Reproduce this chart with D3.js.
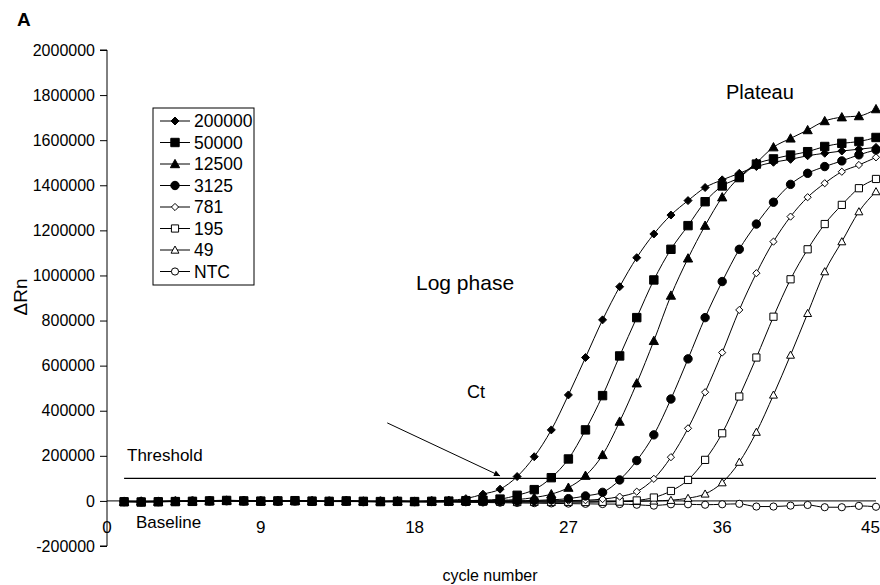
<!DOCTYPE html>
<html>
<head>
<meta charset="utf-8">
<script src="https://cdn.jsdelivr.net/npm/d3@7"></script>
<style>
  html, body { margin: 0; padding: 0; background: #fff; }
  svg { display: block; font-family: Arial, "Liberation Sans", sans-serif; }
</style>
</head>
<body>
<div id="chart"></div>
<script>
// cycle numbers (x categories)
const cycles = [1, 2, 3, 4, 5, 6, 7, 8, 9, 10, 11, 12, 13, 14, 15, 16, 17, 18, 19, 20,
    21, 22, 23, 24, 25, 26, 27, 28, 29, 30, 31, 32, 33, 34, 35, 36, 37, 38, 39, 40,
    41, 42, 43, 44, 45];

// delta Rn per dilution
const s200000 = [-2000, -3000, -2000, -1000, 0, 1000, 3000, 1000, 0, 1000, 2000, 0, -1000, 1000, -1000,
    -2000, -1000, -2000, 0, 3000, 10000, 30000, 52000, 108000, 196000, 315000, 470000, 636000, 803000, 950000,
    1079000, 1184000, 1268000, 1332000, 1390000, 1424000, 1453000, 1483000, 1502000, 1515000, 1531000, 1542000,
    1552000, 1560000, 1568000];
const s50000 = [-4000, -5000, -4000, -3000, -2000, 0, 2000, 0, -1000, 0, 1000, -1000, -2000, 0, -2000,
    -3000, -2000, -3000, -2000, -1000, 1000, 3000, 8000, 25000, 50000, 103000, 186000, 315000, 467000, 643000,
    813000, 980000, 1116000, 1221000, 1327000, 1397000, 1434000, 1494000, 1517000, 1534000, 1549000, 1572000,
    1586000, 1594000, 1612000];
const s12500 = [-3000, -2000, -3000, -1000, -2000, 1000, 2000, 1000, -1000, 0, 1000, 0, -2000, -1000, -2000,
    -2000, -1000, -3000, -1000, -1000, 0, 2000, 3000, 6000, 15000, 30000, 59000, 112000, 204000, 352000,
    522000, 710000, 911000, 1076000, 1221000, 1347000, 1436000, 1500000, 1569000, 1608000, 1645000, 1685000,
    1702000, 1707000, 1738000];
const s3125 = [-3000, -4000, -3000, -2000, -1000, 0, 1000, 0, -1000, -1000, 0, -2000, -2000, -1000, -3000,
    -2000, -2000, -3000, -2000, -2000, -1000, -1000, 0, 0, 2000, 5000, 10000, 22000, 38000, 93000,
    179000, 293000, 452000, 630000, 813000, 973000, 1116000, 1228000, 1325000, 1404000, 1453000, 1483000,
    1508000, 1535000, 1557000];
const s781 = [-2000, -3000, -3000, -2000, -1000, 0, 1000, 0, -1000, 0, 0, -1000, -2000, -1000, -2000,
    -3000, -2000, -2000, -3000, -2000, -2000, -1000, -2000, -1000, -1000, 0, 1000, 3000, 8000, 19000,
    41000, 98000, 194000, 322000, 482000, 658000, 847000, 1010000, 1150000, 1261000, 1347000, 1409000,
    1460000, 1490000, 1524000];
const s195 = [-3000, -4000, -3000, -2000, -2000, -1000, 0, -1000, -2000, -1000, -1000, -2000, -3000, -2000, -3000,
    -4000, -3000, -3000, -4000, -3000, -4000, -3000, -4000, -5000, -4000, -5000, -4000, -5000, -4000, -3000,
    2000, 15000, 44000, 93000, 182000, 300000, 463000, 636000, 817000, 983000, 1116000, 1228000,
    1313000, 1387000, 1428000];
const s49 = [-3000, -3000, -4000, -2000, -2000, -1000, 0, -1000, -2000, -2000, -1000, -2000, -3000, -3000, -3000,
    -4000, -3000, -4000, -4000, -3000, -4000, -5000, -4000, -5000, -5000, -6000, -5000, -5000, -4000, -3000,
    -2000, 0, 3000, 12000, 31000, 81000, 172000, 305000, 470000, 647000, 832000, 1017000,
    1150000, 1283000, 1372000];
const sNTC = [-2000, -3000, -2000, -2000, -1000, 0, 0, -1000, -1000, -2000, -1000, -2000, -3000, -2000, -3000,
    -3000, -4000, -4000, -5000, -5000, -6000, -7000, -8000, -9000, -10000, -11000, -12000, -13000, -14000, -14000,
    -17000, -21000, -15000, -15000, -17000, -15000, -13000, -25000, -25000, -21000, -18000, -28000,
    -28000, -22000, -26000];

const seriesNames = ["200000", "50000", "12500", "3125", "781", "195", "49", "NTC"];
const seriesValues = [s200000, s50000, s12500, s3125, s781, s195, s49, sNTC];
const markerKinds = ["diamond", "square", "triangle", "circle", "diamond", "square", "triangle", "circle"];
const markerFilled = [true, true, true, true, false, false, false, false];

const yTicks = [-200000, 0, 200000, 400000, 600000, 800000, 1000000, 1200000, 1400000, 1600000, 1800000, 2000000];
const xTicks = [0, 9, 18, 27, 36, 45];
const threshold = 100000;
// Ct arrow, in data units: [cycle, deltaRn]
const ctArrowFrom = [16.4, 346000];
const ctArrowTo = [23.0, 111000];

const width = 880;
const height = 585;

const x = d3.scaleLinear().domain([0, 45]).range([107, 876]);
const y = d3.scaleLinear().domain([-200000, 2000000]).range([546, 50]);

const svg = d3.select("#chart")
    .append("svg")
    .attr("width", width)
    .attr("height", height);

svg.append("defs").append("marker")
    .attr("id", "arrow")
    .attr("viewBox", "0 0 10 10")
    .attr("refX", 10)
    .attr("refY", 5)
    .attr("markerWidth", 10)
    .attr("markerHeight", 6)
    .attr("markerUnits", "userSpaceOnUse")
    .attr("orient", "auto")
    .append("path")
    .attr("d", "M0,0 L10,5 L0,10 Z")
    .attr("fill", "#000");

// marker shapes centred on 0,0
function markerPath(kind, filled) {
    const r = filled ? 4.2 : 3.6;
    if (kind === "diamond") {
        const d = filled ? 4 : 3.6;
        return `M0,${-d}L${d},0L0,${d}L${-d},0Z`;
    }
    if (kind === "square") {
        return `M${-r},${-r}H${r}V${r}H${-r}Z`;
    }
    if (kind === "triangle") {
        const h = r * 1.1;
        return `M0,${-h}L${h},${h * 0.8}L${-h},${h * 0.8}Z`;
    }
    return `M${r},0A${r},${r} 0 1,1 ${-r},0A${r},${r} 0 1,1 ${r},0Z`;
}

// y axis
const yAxis = svg.append("g")
    .attr("transform", `translate(${x(0)},0)`)
    .call(d3.axisLeft(y).tickValues(yTicks).tickSize(7).tickPadding(5).tickFormat(d => String(d)));
yAxis.select(".domain").attr("stroke", "#000").attr("d", `M-7,${y(-200000)}H0V${y(2000000)}H-7`);
yAxis.selectAll("text")
    .attr("font-size", 16)
    .attr("fill", "#000")
    .attr("font-family", "Arial, 'Liberation Sans', sans-serif");

// x axis drawn through zero
svg.append("line")
    .attr("x1", x(0)).attr("x2", x(45))
    .attr("y1", y(0)).attr("y2", y(0))
    .attr("stroke", "#000");

svg.append("g")
    .selectAll("text")
    .data(xTicks)
    .join("text")
    .attr("x", d => d === 45 ? width : x(d))
    .attr("y", y(0) + 32)
    .attr("text-anchor", d => d === 45 ? "end" : "middle")
    .attr("font-size", 17)
    .text(d => d);

// threshold
svg.append("line")
    .attr("x1", x(1)).attr("x2", x(45))
    .attr("y1", y(threshold)).attr("y2", y(threshold))
    .attr("stroke", "#000")
    .attr("stroke-width", 1.2);

// series, drawn from NTC up so the big filled markers end on top
const line = d3.line()
    .x((d, i) => x(cycles[i]))
    .y(d => y(d))
    .curve(d3.curveMonotoneX);

const order = d3.range(seriesNames.length).reverse();
order.forEach(k => {
    const g = svg.append("g");
    g.append("path")
        .datum(seriesValues[k])
        .attr("fill", "none")
        .attr("stroke", "#000")
        .attr("stroke-width", 1)
        .attr("d", line);
    g.selectAll("path.pt")
        .data(seriesValues[k])
        .join("path")
        .attr("class", "pt")
        .attr("transform", (d, i) => `translate(${x(cycles[i])},${y(d)})`)
        .attr("d", markerPath(markerKinds[k], markerFilled[k]))
        .attr("fill", markerFilled[k] ? "#000" : "#fff")
        .attr("stroke", "#000")
        .attr("stroke-width", 1);
});

// Ct arrow
svg.append("line")
    .attr("x1", x(ctArrowFrom[0])).attr("y1", y(ctArrowFrom[1]))
    .attr("x2", x(ctArrowTo[0])).attr("y2", y(ctArrowTo[1]))
    .attr("stroke", "#000")
    .attr("stroke-width", 1)
    .attr("marker-end", "url(#arrow)");

// legend
const legend = svg.append("g").attr("transform", "translate(153,108)");
legend.append("rect")
    .attr("width", 101)
    .attr("height", 177)
    .attr("fill", "#fff")
    .attr("stroke", "#000")
    .attr("stroke-width", 1);
const rows = legend.selectAll("g.row")
    .data(seriesNames)
    .join("g")
    .attr("class", "row")
    .attr("transform", (d, i) => `translate(0,${13 + i * 21.5})`);
rows.append("line")
    .attr("x1", 7).attr("x2", 37)
    .attr("stroke", "#000");
rows.append("path")
    .attr("transform", "translate(22,0)")
    .attr("d", (d, i) => markerPath(markerKinds[i], markerFilled[i]))
    .attr("fill", (d, i) => markerFilled[i] ? "#000" : "#fff")
    .attr("stroke", "#000");
rows.append("text")
    .attr("x", 41)
    .attr("y", 6)
    .attr("font-size", 17.5)
    .text(d => d);

// annotations
const label = (tx, ty, txt, size, extra) => {
    const t = svg.append("text")
        .attr("x", tx)
        .attr("y", ty)
        .attr("font-size", size)
        .text(txt);
    if (extra) extra(t);
    return t;
};

label(17, 26, "A", 19, t => t.attr("font-weight", "bold"));
label(127, 461, "Threshold", 17);
label(136, 528, "Baseline", 17);
label(467, 398, "Ct", 18);
label(416, 290, "Log phase", 21);
label(726, 99, "Plateau", 20);
label(490, 581, "cycle number", 16, t => t.attr("text-anchor", "middle"));
label(0, 0, "ΔRn", 19, t => t.attr("text-anchor", "middle")
    .attr("transform", "translate(27,297) rotate(-90)"));
</script>
</body>
</html>
